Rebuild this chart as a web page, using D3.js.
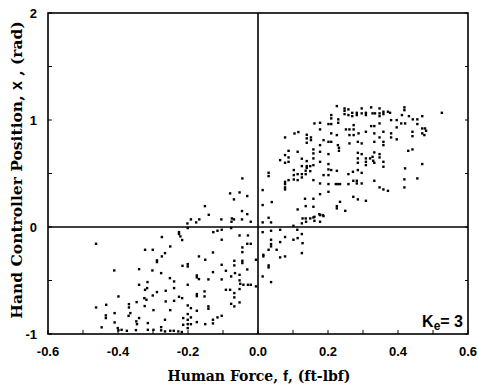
<!DOCTYPE html>
<html><head><meta charset="utf-8">
<script src="https://cdn.jsdelivr.net/npm/d3@7"></script>
<style>body{margin:0;background:#fff}svg{display:block}</style>
</head><body><svg id="c" width="478" height="387"></svg>
<script>
const xTicks=[-0.6,-0.4,-0.2,0.0,0.2,0.4,0.6];
const xTickLabels=["-0.6","-0.4","-0.2","0.0","0.2","0.4","0.6"];
const yTicks=[-1,0,1,2];
const yTickLabels=["-1","0","1","2"];
const xTitle="Human Force, ";
const yTitle="Hand Controller Position, ";
const gainLabel=["K","e","= 3"];

const lowerLeft=[[-0.463,-0.156],[-0.275,-0.093],[-0.226,-0.047],[-0.226,-0.065],[-0.222,-0.087],[-0.217,-0.121],[-0.251,-0.181],[-0.323,-0.212],[-0.301,-0.212],[-0.266,-0.243],[-0.275,-0.274],[-0.289,-0.311],[-0.289,-0.327],[-0.216,-0.362],[-0.411,-0.405],[-0.340,-0.393],[-0.302,-0.405],[-0.277,-0.430],[-0.252,-0.477],[-0.240,-0.508],[-0.316,-0.514],[-0.340,-0.539],[-0.240,-0.570],[-0.323,-0.586],[-0.317,-0.570],[-0.289,-0.607],[-0.264,-0.595],[-0.301,-0.639],[-0.399,-0.648],[-0.325,-0.664],[-0.319,-0.679],[-0.347,-0.701],[-0.369,-0.720],[-0.369,-0.751],[-0.264,-0.695],[-0.240,-0.689],[-0.226,-0.651],[-0.217,-0.664],[-0.463,-0.751],[-0.434,-0.726],[-0.324,-0.738],[-0.299,-0.776],[-0.251,-0.776],[-0.410,-0.804],[-0.365,-0.804],[-0.370,-0.829],[-0.435,-0.825],[-0.435,-0.850],[-0.340,-0.850],[-0.348,-0.881],[-0.346,-0.907],[-0.410,-0.891],[-0.315,-0.897],[-0.266,-0.866],[-0.214,-0.850],[-0.214,-0.913],[-0.447,-0.937],[-0.401,-0.944],[-0.399,-0.965],[-0.390,-0.960],[-0.375,-0.969],[-0.349,-0.963],[-0.315,-0.960],[-0.299,-0.960],[-0.277,-0.935],[-0.277,-0.965],[-0.266,-0.975],[-0.251,-0.969],[-0.241,-0.969],[-0.228,-0.975],[-0.218,-0.981]];
const lowerMid=[[-0.201,-0.009],[-0.128,-0.047],[-0.116,-0.034],[-0.104,-0.025],[-0.077,-0.009],[-0.104,-0.118],[-0.053,-0.078],[-0.029,-0.078],[-0.031,-0.156],[-0.021,-0.156],[-0.045,-0.190],[-0.045,-0.234],[-0.169,-0.274],[-0.129,-0.237],[-0.151,-0.305],[-0.006,-0.305],[-0.201,-0.346],[-0.201,-0.368],[-0.104,-0.352],[-0.068,-0.315],[-0.045,-0.315],[-0.045,-0.336],[-0.068,-0.358],[-0.092,-0.408],[-0.066,-0.430],[-0.031,-0.396],[-0.129,-0.421],[-0.077,-0.461],[-0.053,-0.446],[-0.175,-0.452],[-0.175,-0.470],[-0.169,-0.486],[-0.142,-0.489],[-0.104,-0.489],[-0.053,-0.498],[-0.051,-0.530],[-0.042,-0.539],[-0.029,-0.539],[-0.021,-0.539],[-0.006,-0.554],[-0.201,-0.539],[-0.092,-0.586],[-0.080,-0.586],[-0.053,-0.579],[-0.068,-0.617],[-0.068,-0.657],[-0.153,-0.601],[-0.153,-0.648],[-0.175,-0.626],[-0.175,-0.645],[-0.053,-0.704],[-0.077,-0.717],[-0.068,-0.741],[-0.142,-0.741],[-0.142,-0.763],[-0.201,-0.732],[-0.192,-0.757],[-0.175,-0.782],[-0.201,-0.813],[-0.192,-0.844],[-0.201,-0.866],[-0.104,-0.829],[-0.116,-0.844],[-0.129,-0.866],[-0.175,-0.888],[-0.192,-0.907],[-0.201,-0.907],[-0.151,-0.907],[-0.129,-0.900],[-0.201,-0.944]];
const lowerRight=[[0.013,-0.047],[0.037,-0.034],[0.063,-0.025],[0.112,-0.025],[0.125,-0.065],[0.101,-0.118],[0.113,-0.103],[0.127,-0.150],[0.077,-0.093],[0.063,-0.140],[0.037,-0.118],[0.037,-0.159],[0.037,-0.180],[0.053,-0.212],[0.030,-0.212],[0.015,-0.259],[0.015,-0.274],[0.063,-0.283],[0.077,-0.274],[0.125,-0.243],[0.030,-0.358],[0.030,-0.377],[0.013,-0.461],[0.037,-0.514]];
const upperLeft=[[-0.080,0.315],[-0.069,0.259],[-0.053,0.324],[-0.031,0.290],[-0.152,0.196],[-0.141,0.115],[-0.192,0.072],[-0.177,0.044],[-0.168,0.072],[-0.105,0.072],[-0.076,0.050],[-0.069,0.072],[-0.046,0.150],[-0.031,0.121],[-0.046,0.072],[-0.021,0.050],[-0.202,0.034],[-0.045,0.455],[-0.075,0.081]];
const upperRight=[[0.013,0.346],[0.013,0.206],[0.030,0.508],[0.030,0.477],[0.039,0.234],[0.030,0.087],[0.077,0.838],[0.087,0.713],[0.077,0.673],[0.077,0.601],[0.087,0.651],[0.087,0.610],[0.063,0.626],[0.104,0.875],[0.115,0.888],[0.113,0.704],[0.125,0.639],[0.139,0.863],[0.139,0.829],[0.139,0.788],[0.151,0.838],[0.151,0.813],[0.161,0.969],[0.158,0.726],[0.158,0.689],[0.158,0.642],[0.139,0.617],[0.139,0.570],[0.139,0.554],[0.125,0.570],[0.149,0.570],[0.149,0.523],[0.102,0.533],[0.102,0.486],[0.113,0.495],[0.125,0.495],[0.136,0.527],[0.136,0.495],[0.087,0.439],[0.077,0.423],[0.102,0.445],[0.113,0.439],[0.125,0.464],[0.077,0.402],[0.077,0.371],[0.077,0.352],[0.158,0.579],[0.158,0.439],[0.134,0.265],[0.158,0.265],[0.113,0.165],[0.136,0.196],[0.158,0.190],[0.127,0.081],[0.136,0.081],[0.158,0.090],[0.013,0.044],[0.037,0.044],[0.101,0.012],[0.125,0.035],[0.137,0.050],[0.149,0.081],[0.161,0.096],[0.161,0.059],[0.175,0.121],[0.185,0.112],[0.177,0.050]];
const upperFar=[[0.225,1.131],[0.247,1.109],[0.247,1.087],[0.247,1.056],[0.258,1.100],[0.258,1.047],[0.269,1.068],[0.269,1.037],[0.282,1.068],[0.282,1.047],[0.296,1.109],[0.296,1.063],[0.308,1.068],[0.308,1.047],[0.323,1.119],[0.327,1.063],[0.334,1.063],[0.347,1.109],[0.347,1.063],[0.347,1.037],[0.358,1.078],[0.358,1.056],[0.371,1.078],[0.377,1.068],[0.411,1.047],[0.418,1.119],[0.418,1.093],[0.431,1.037],[0.469,1.037],[0.525,1.068],[0.209,1.047],[0.209,1.016],[0.229,1.007],[0.229,0.975],[0.201,0.963],[0.209,0.963],[0.177,0.975],[0.251,0.913],[0.261,0.913],[0.273,0.953],[0.273,0.913],[0.323,0.944],[0.332,0.944],[0.347,0.969],[0.380,1.000],[0.396,1.000],[0.409,0.969],[0.420,0.969],[0.396,0.932],[0.442,1.007],[0.455,1.007],[0.455,0.963],[0.469,0.922],[0.477,0.922],[0.469,0.876],[0.441,0.891],[0.441,0.850],[0.380,0.876],[0.380,0.838],[0.396,0.820],[0.177,0.913],[0.187,0.813],[0.201,0.797],[0.209,0.797],[0.177,0.766],[0.209,0.876],[0.225,0.860],[0.261,0.860],[0.273,0.860],[0.287,0.876],[0.308,0.891],[0.332,0.876],[0.358,0.891],[0.347,0.838],[0.228,0.766],[0.231,0.741],[0.231,0.713],[0.261,0.782],[0.285,0.797],[0.296,0.782],[0.332,0.797],[0.358,0.797],[0.358,0.766],[0.441,0.726],[0.429,0.713],[0.177,0.704],[0.177,0.610],[0.201,0.682],[0.285,0.694],[0.296,0.682],[0.332,0.698],[0.347,0.682],[0.347,0.651],[0.285,0.642],[0.285,0.601],[0.308,0.642],[0.308,0.610],[0.308,0.579],[0.320,0.642],[0.327,0.657],[0.329,0.620],[0.332,0.601],[0.358,0.610],[0.358,0.564],[0.201,0.589],[0.201,0.539],[0.225,0.526],[0.209,0.533],[0.271,0.517],[0.258,0.495],[0.285,0.533],[0.296,0.507],[0.187,0.486],[0.201,0.486],[0.420,0.549],[0.469,0.589],[0.418,0.446],[0.455,0.455],[0.418,0.371],[0.272,0.433],[0.282,0.433],[0.282,0.408],[0.296,0.408],[0.332,0.433],[0.177,0.408],[0.201,0.402],[0.222,0.402],[0.228,0.402],[0.234,0.402],[0.258,0.402],[0.347,0.371],[0.358,0.352],[0.371,0.339],[0.177,0.308],[0.201,0.330],[0.272,0.283],[0.285,0.259],[0.308,0.246],[0.234,0.236],[0.225,0.196],[0.225,0.175],[0.249,0.152],[0.177,0.112],[0.187,0.103],[0.480,0.900],[0.475,0.860]];

const points=[].concat(lowerLeft,lowerMid,lowerRight,upperLeft,upperRight,upperFar);

const svg=d3.select("#c");
const L=48,R=468,T=13,B=334;
const x=d3.scaleLinear().domain([-0.6,0.6]).range([L,R]);
const y=d3.scaleLinear().domain([-1,2]).range([B,T]);

// points
svg.append("g").selectAll("rect").data(points).join("rect")
  .attr("x",d=>x(d[0])-1.1).attr("y",d=>y(d[1])-1.1)
  .attr("width",2.4).attr("height",2.4).attr("fill","#000");

// minor ticks
const g=svg.append("g").attr("stroke","#000").attr("stroke-width",1);
g.selectAll(".xt").data(d3.range(-6,7).map(v=>v/10)).join("line")
  .attr("x1",d=>x(d)).attr("x2",d=>x(d)).attr("y1",B).attr("y2",B-4);
g.selectAll(".yt").data(d3.range(-2,5).map(v=>v/2)).join("line")
  .attr("x1",L).attr("x2",L+4).attr("y1",d=>y(d)).attr("y2",d=>y(d));
g.selectAll(".yr").data(d3.range(-2,5).map(v=>v/2)).join("line")
  .attr("x1",R).attr("x2",R-3).attr("y1",d=>y(d)).attr("y2",d=>y(d));

// frame & zero lines
const f=svg.append("g").attr("stroke","#000").attr("stroke-width",1.6).attr("fill","none");
f.append("rect").attr("x",L).attr("y",T).attr("width",R-L).attr("height",B-T);
f.append("line").attr("x1",x(0)).attr("x2",x(0)).attr("y1",T).attr("y2",B);
f.append("line").attr("x1",L).attr("x2",R).attr("y1",y(0)).attr("y2",y(0));

// tick labels
svg.append("g").selectAll("text").data(xTicks).join("text")
  .attr("x",d=>x(d)).attr("y",356).attr("text-anchor","middle")
  .attr("font-family","Liberation Sans, Arial, sans-serif").attr("font-weight","bold").attr("font-size",13)
  .text((d,i)=>xTickLabels[i]);
svg.append("g").selectAll("text").data(yTicks).join("text")
  .attr("x",37).attr("y",d=>y(d)+4.5).attr("text-anchor","end")
  .attr("font-family","Liberation Sans, Arial, sans-serif").attr("font-weight","bold").attr("font-size",13)
  .text((d,i)=>yTickLabels[i]);

// axis titles
const xt=svg.append("text").attr("x",259).attr("y",381).attr("text-anchor","middle")
  .attr("font-family","DejaVu Serif, serif").attr("font-weight","bold").attr("font-size",14);
xt.append("tspan").text(xTitle);
xt.append("tspan").attr("font-family","Liberation Sans, sans-serif").attr("font-size",15).text("f");
xt.append("tspan").text(", (ft-lbf)");

const yt=svg.append("text").attr("transform","translate(22,170) rotate(-90)").attr("text-anchor","middle")
  .attr("font-family","DejaVu Serif, serif").attr("font-weight","bold").attr("font-size",15.5);
yt.append("tspan").text(yTitle);
yt.append("tspan").attr("font-family","Liberation Sans, sans-serif").attr("font-size",16).text("x");
yt.append("tspan").text(" , (rad)");

// gain label
const kt=svg.append("text").attr("x",463).attr("y",327).attr("text-anchor","end")
  .attr("font-family","Liberation Sans, Arial, sans-serif").attr("font-weight","bold").attr("font-size",16);
kt.append("tspan").text(gainLabel[0]);
kt.append("tspan").attr("font-size",12).attr("dy",3).text(gainLabel[1]);
kt.append("tspan").attr("dy",-3).text(gainLabel[2]);
</script></body></html>
